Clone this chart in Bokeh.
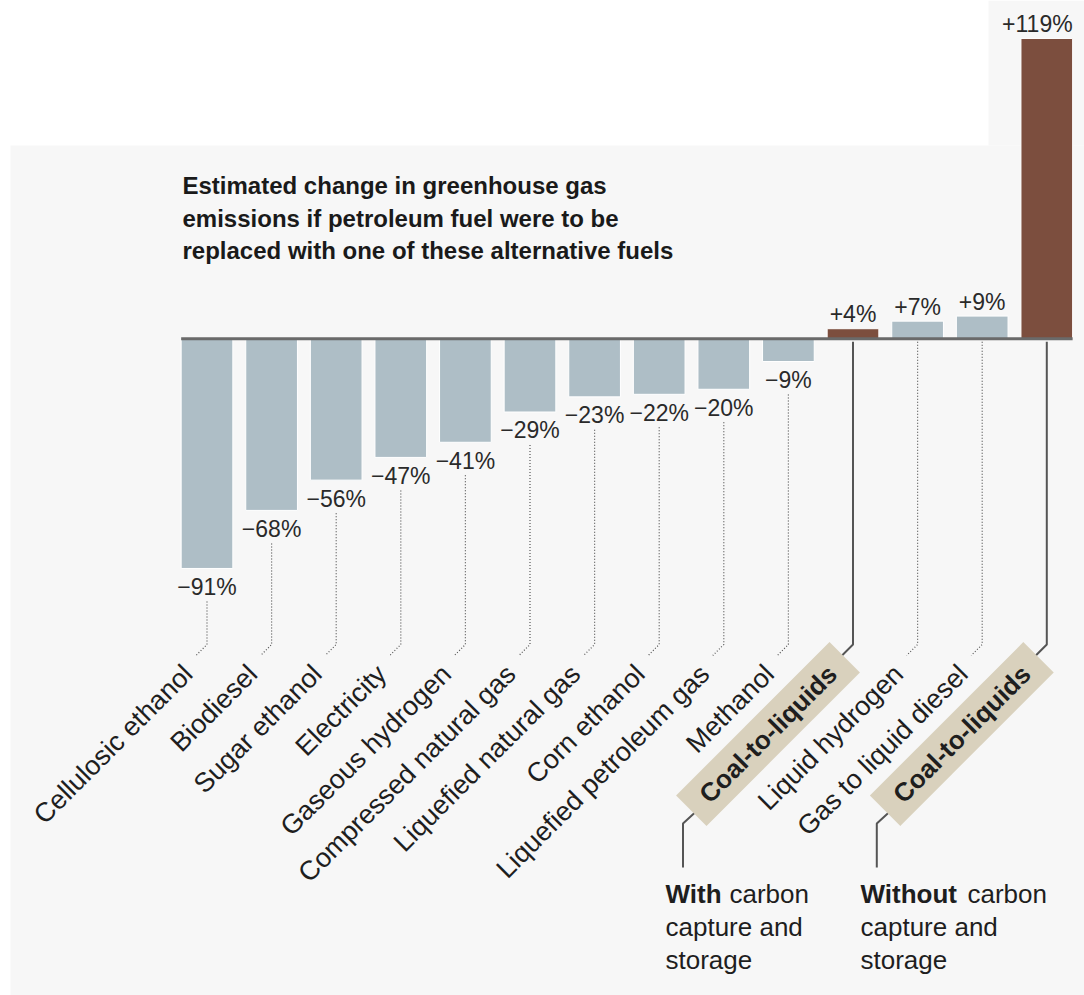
import math
from bokeh.plotting import figure
from bokeh.models import Range1d, ColumnDataSource
from bokeh.core.properties import value
from bokeh.embed import file_html
from bokeh.resources import INLINE

# --- data -------------------------------------------------------------
fuels = [
    "Cellulosic ethanol", "Biodiesel", "Sugar ethanol", "Electricity",
    "Gaseous hydrogen", "Compressed natural gas", "Liquefied natural gas",
    "Corn ethanol", "Liquefied petroleum gas", "Methanol", "Coal-to-liquids",
    "Liquid hydrogen", "Gas to liquid diesel", "Coal-to-liquids",
]
change_pct = [-91, -68, -56, -47, -41, -29, -23, -22, -20, -9, 4, 7, 9, 119]
coal_flags = [False] * 10 + [True, False, False, True]
coal_notes = [
    ("With", "carbon", ["capture and", "storage"]),
    ("Without", "carbon", ["capture and", "storage"]),
]
title_lines = [
    "Estimated change in greenhouse gas",
    "emissions if petroleum fuel were to be",
    "replaced with one of these alternative fuels",
]

# --- layout helpers (pixel <-> data) ----------------------------------
W, H = 1084, 995
X0, DX = 206.5, 64.6      # pixel centre of first bar, pixels per fuel
Z, K = 338.3, 2.5238      # pixel row of 0 %, pixels per percentage point


def dx(px):
    return (px - X0) / DX


def dy(py):
    return (Z - py) / K


FONT = value("Liberation Sans")
BLUE = "#aebec6"
BROWN = "#7c4e3e"
BEIGE = "#d9d1bd"
INK = "#1e1e1e"

p = figure(width=W, height=H, x_range=Range1d(dx(0), dx(W)),
           y_range=Range1d(dy(H), dy(0)), output_backend="svg",
           toolbar_location=None, x_axis_type=None, y_axis_type=None,
           min_border=0, background_fill_color="white",
           border_fill_color="white", outline_line_color=None)
p.grid.visible = False

# light panel behind the chart
p.quad(left=[dx(10), dx(988)], right=[dx(W), dx(W)],
       top=[dy(145), dy(0)], bottom=[dy(H), dy(145)],
       fill_color="#f7f7f7", line_color=None)

idx = list(range(len(fuels)))
bar_colors = [BROWN if c else BLUE for c in coal_flags]
src = ColumnDataSource(dict(x=idx, top=change_pct, color=bar_colors))
p.vbar(x="x", top="top", bottom=0, width=0.8, source=src,
       fill_color="color", line_color="white", line_width=1)

# zero baseline across the bars
p.segment(x0=[idx[0] - 0.4], x1=[idx[-1] + 0.4], y0=[0], y1=[0],
          line_color="#6a6a6a", line_width=3)

# value labels
lab_txt, lab_x, lab_y, lab_align = [], [], [], []
for i, v in zip(idx, change_pct):
    sign = "+" if v > 0 else "\u2212"
    lab_txt.append(f"{sign}{abs(v)}%")
    if v < 0:
        lab_y.append(v - 18.5 / K)
    else:
        lab_y.append(v + 14.5 / K)
    if i == idx[-1]:
        lab_x.append(i + 0.4)
        lab_align.append("right")
    else:
        lab_x.append(i)
        lab_align.append("center")
p.text(x=lab_x, y=lab_y, text=lab_txt, text_align=lab_align,
       text_baseline="alphabetic", text_font=FONT, text_font_size="23px",
       text_color="#2a2a2a")

# leader lines from each bar down to its label
dot_xs, dot_ys, solid_xs, solid_ys = [], [], [], []
for i, v, coal in zip(idx, change_pct, coal_flags):
    y_start = v - 33 / K if v < 0 else -3 / K
    xs = [i, i, i - 11 / DX]
    ys = [y_start, dy(644), dy(655)]
    if coal:
        solid_xs.append(xs)
        solid_ys.append(ys)
        # short connector from the box down to the note
        solid_xs.append([i - 158 / DX, i - 170 / DX, i - 170 / DX])
        solid_ys.append([dy(812), dy(823), dy(867)])
    else:
        dot_xs.append(xs)
        dot_ys.append(ys)
p.multi_line(xs=dot_xs, ys=dot_ys, line_color="#555555", line_width=1.2,
             line_dash="1 2")
p.multi_line(xs=solid_xs, ys=solid_ys, line_color="#555555", line_width=2)

# rotated category labels
plain = [(i, f) for i, f, c in zip(idx, fuels, coal_flags) if not c]
p.text(x=[i - 19 / DX for i, _ in plain], y=[dy(669)] * len(plain),
       text=[f for _, f in plain], angle=math.pi / 4, text_align="right",
       text_baseline="alphabetic", text_font=FONT, text_font_size="27px",
       text_color=INK)

# highlighted coal-to-liquids labels in boxes
coal = [(i, f) for i, f, c in zip(idx, fuels, coal_flags) if c]
box_x = [i - 85 / DX for i, _ in coal]
box_y = [dy(733.5)] * len(coal)
p.rect(x=box_x, y=box_y, width=217, height=43, width_units="screen",
       height_units="screen", angle=math.pi / 4, fill_color=BEIGE,
       line_color=None)
p.text(x=box_x, y=box_y, text=[f for _, f in coal], angle=math.pi / 4,
       text_align="center", text_baseline="middle", text_font=FONT,
       text_font_size="26px", text_font_style="bold", text_color=INK)

# notes under the coal labels
note_left = [665, 860]
note_word2 = [729, 967]
for (i, _), (bold_word, word2, rest), nx, nx2 in zip(coal, coal_notes,
                                                     note_left, note_word2):
    p.text(x=[dx(nx)], y=[dy(893)], text=[bold_word], text_font=FONT,
           text_font_size="26px", text_font_style="bold",
           text_baseline="alphabetic", text_color=INK)
    p.text(x=[dx(nx2)], y=[dy(893)], text=[word2], text_font=FONT,
           text_font_size="26px", text_baseline="alphabetic",
           text_color=INK)
    p.text(x=[dx(nx)] * len(rest), y=[dy(926), dy(959)], text=rest,
           text_font=FONT, text_font_size="26px",
           text_baseline="alphabetic", text_color=INK)

# title
p.text(x=[dx(182)] * 3, y=[dy(185), dy(218), dy(250)], text=title_lines,
       text_font=FONT, text_font_size="24px", text_font_style="bold",
       text_baseline="alphabetic", text_color="#1a1a1a")

open("out.html", "w").write(file_html(p, INLINE))
